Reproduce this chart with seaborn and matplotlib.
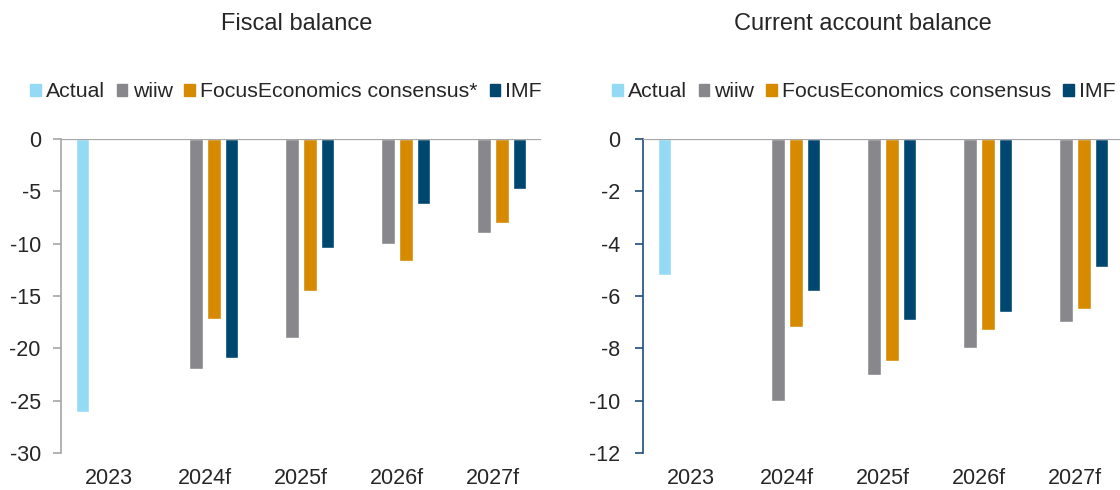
import pandas as pd
import matplotlib
matplotlib.use("Agg")
import matplotlib.pyplot as plt
import seaborn as sns

# Values
years = ["2023", "2024f", "2025f", "2026f", "2027f"]
sources_fiscal = ["Actual", "wiiw", "FocusEconomics consensus*", "IMF"]
sources_ca = ["Actual", "wiiw", "FocusEconomics consensus", "IMF"]

fiscal_actual = [-26.1, None, None, None, None]
fiscal_wiiw = [None, -22.0, -19.0, -10.0, -9.0]
fiscal_focus = [None, -17.2, -14.5, -11.7, -8.0]
fiscal_imf = [None, -20.9, -10.4, -6.2, -4.8]

ca_actual = [-5.2, None, None, None, None]
ca_wiiw = [None, -10.0, -9.0, -8.0, -7.0]
ca_focus = [None, -7.2, -8.5, -7.3, -6.5]
ca_imf = [None, -5.8, -6.9, -6.6, -4.9]

colors = ["#95DAF5", "#88878C", "#D68A00", "#00476F"]


def long_frame(names, series):
    rows = []
    for name, vals in zip(names, series):
        for yr, v in zip(years, vals):
            rows.append({"Year": yr, "Source": name, "Value": v})
    return pd.DataFrame(rows)


df_fiscal = long_frame(sources_fiscal, [fiscal_actual, fiscal_wiiw, fiscal_focus, fiscal_imf])
df_ca = long_frame(sources_ca, [ca_actual, ca_wiiw, ca_focus, ca_imf])

sns.set_style("white")
plt.rcParams["font.family"] = ["Liberation Sans", "DejaVu Sans"]
plt.rcParams["axes.unicode_minus"] = False

fig = plt.figure(figsize=(11.2, 4.9), dpi=100)
ax1 = fig.add_axes([61 / 1120, 1 - 453 / 490, 480 / 1120, 314 / 490])
ax2 = fig.add_axes([643 / 1120, 1 - 453 / 490, 480 / 1120, 314 / 490])


def draw(ax, df, names, ylim, step, spine_color, ypad, leg_dx, title, title_x):
    sns.barplot(data=df, x="Year", y="Value", hue="Source", hue_order=names,
                palette=colors, order=years, dodge=True, width=0.73, gap=0.23,
                ax=ax, saturation=1, legend=False)
    ax.set_ylim(*ylim)
    ax.set_xlim(-0.5, 4.5)
    ax.set_yticks(range(ylim[0], 1, step))
    ax.set_xlabel("")
    ax.set_ylabel("")
    for s in ["top", "right", "bottom"]:
        ax.spines[s].set_visible(False)
    ax.spines["left"].set_color(spine_color)
    ax.spines["left"].set_linewidth(1.2)
    ax.axhline(0, color="#A6A6A6", lw=1.6, zorder=3)
    ax.tick_params(axis="y", direction="out", length=6, width=1.2, color=spine_color,
                   labelsize=15.5, pad=ypad, left=True)
    ax.tick_params(axis="x", length=0, labelsize=15.5, pad=10.5)
    handles = [plt.Rectangle((0, 0), 1, 1, color=c) for c in colors]
    ax.legend(handles, names, loc="center", bbox_to_anchor=(0.5 + leg_dx, 1.15), ncol=4,
              frameon=False, fontsize=15.3, handlelength=0.5, handleheight=0.5,
              handletextpad=0.25, columnspacing=0.55, borderaxespad=0, borderpad=0)
    fig.text(title_x, 1 - 24 / 490, title, ha="center", va="center", fontsize=17)


draw(ax1, df_fiscal, sources_fiscal, (-30, 0), 5, "#A6A6A6", 8.5, -0.031,
     "Fiscal balance", 297 / 1120)
draw(ax2, df_ca, sources_ca, (-12, 0), 2, "#1F4E79", 10.5, -0.04,
     "Current account balance", 863 / 1120)

fig.savefig("out.png", dpi=100)
